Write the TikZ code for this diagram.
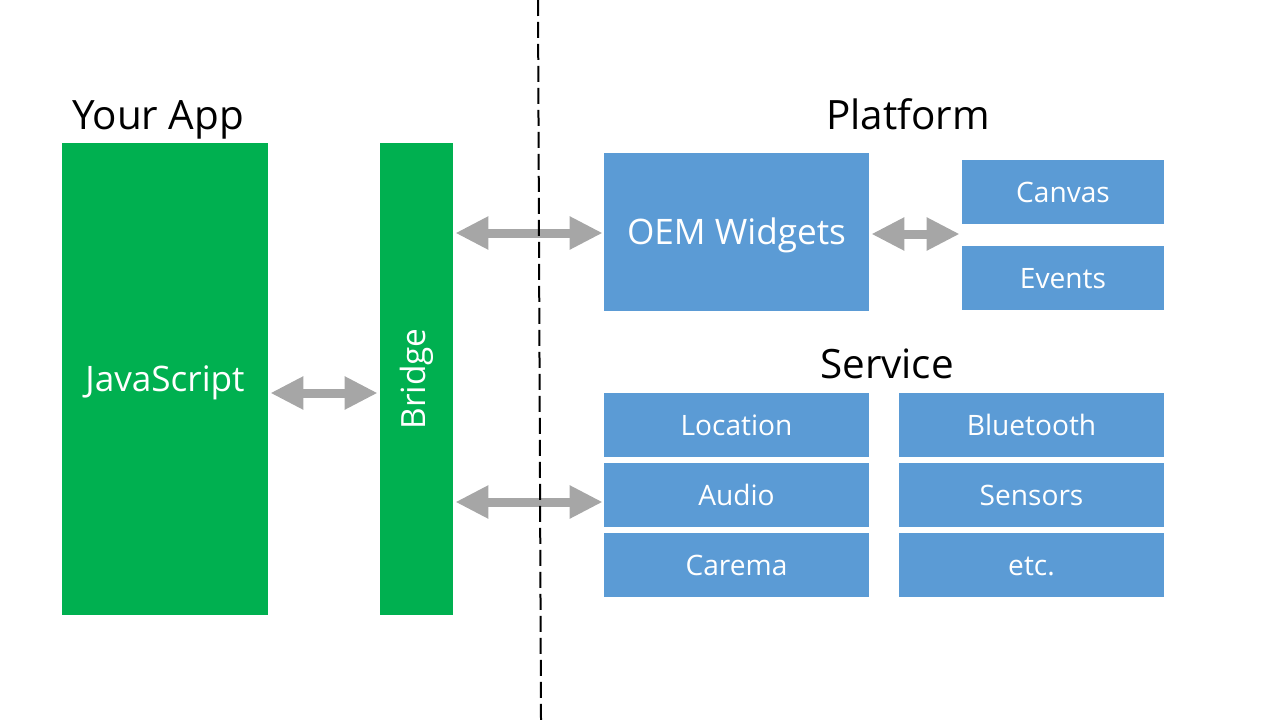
\documentclass[tikz,border=0pt]{standalone}
\usepackage{fontspec}
\setmainfont{Open Sans}
\usetikzlibrary{arrows.meta}
\definecolor{appgreen}{RGB}{0,176,80}
\definecolor{platblue}{RGB}{91,155,213}
\definecolor{arrowgray}{RGB}{166,166,166}
\begin{document}
\begin{tikzpicture}[x=0.02cm,y=-0.02cm,
    capcenter/.style={text height=#1,text depth=0pt},
    greenbox/.style={fill=appgreen,text=white,minimum height=9.44cm,inner sep=0pt},
    bluebox/.style={fill=platblue,text=white,minimum height=1.28cm,inner sep=0pt,capcenter=11.5pt,
      font=\fontsize{16}{19}\selectfont},
    heading/.style={font=\fontsize{23}{28}\selectfont,inner sep=0pt,capcenter=16.4pt},
    biarrow/.style={arrowgray,line width=0.18cm,
      {Triangle[length=0.66cm,width=0.62cm]}-{Triangle[length=0.66cm,width=0.62cm]}}]
  \useasboundingbox (0,0) rectangle (1280,720);
  % your app side
  \node[heading] (yourapp) at (158,115) {Your App};
  \node[greenbox,capcenter=14.3pt,minimum width=4.12cm,font=\fontsize{20}{24}\selectfont] (js) at (165,379) {JavaScript};
  \node[greenbox,minimum width=1.46cm,font=\fontsize{19}{23}\selectfont] (bridge) at (416.5,379) {\rotatebox{90}{Bridge}};
  % platform side
  \node[heading] (platform) at (908,115) {Platform};
  \node[bluebox,capcenter=14.3pt,minimum width=5.3cm,minimum height=3.16cm,font=\fontsize{20}{24}\selectfont] (oem) at (736.5,232) {OEM Widgets};
  \node[bluebox,minimum width=4.04cm] (canvas) at (1063,192) {Canvas};
  \node[bluebox,minimum width=4.04cm] (events) at (1063,278) {Events};
  \node[heading] (service) at (887,364) {Service};
  \node[bluebox,minimum width=5.3cm] (location) at (736.5,425) {Location};
  \node[bluebox,minimum width=5.3cm] (audio) at (736.5,495) {Audio};
  \node[bluebox,minimum width=5.3cm] (carema) at (736.5,565) {Carema};
  \node[bluebox,minimum width=5.3cm] (bluetooth) at (1031.5,425) {Bluetooth};
  \node[bluebox,minimum width=5.3cm] (sensors) at (1031.5,495) {Sensors};
  \node[bluebox,minimum width=5.3cm] (etc) at (1031.5,565) {etc.};
  % connectors
  \draw[biarrow] ([xshift=0.04cm,yshift=-0.28cm]js.east) -- ([xshift=-0.04cm,yshift=-0.28cm]bridge.west);
  \draw[biarrow] ([xshift=0.04cm,yshift=-0.02cm]bridge.east |- oem.west) -- ([xshift=-0.02cm,yshift=-0.02cm]oem.west);
  \draw[biarrow] ([xshift=0.04cm,yshift=-0.14cm]bridge.east |- audio.west) -- ([xshift=-0.02cm,yshift=-0.14cm]audio.west);
  \draw[biarrow] ([xshift=0.04cm,yshift=-0.04cm]oem.east) -- ([xshift=-0.04cm,yshift=-0.04cm]oem.east -| canvas.west);
  \draw[line width=0.04cm,dash pattern=on 0.32cm off 0.12cm] (538,0) -- (541,720); % divider
\end{tikzpicture}
\end{document}
